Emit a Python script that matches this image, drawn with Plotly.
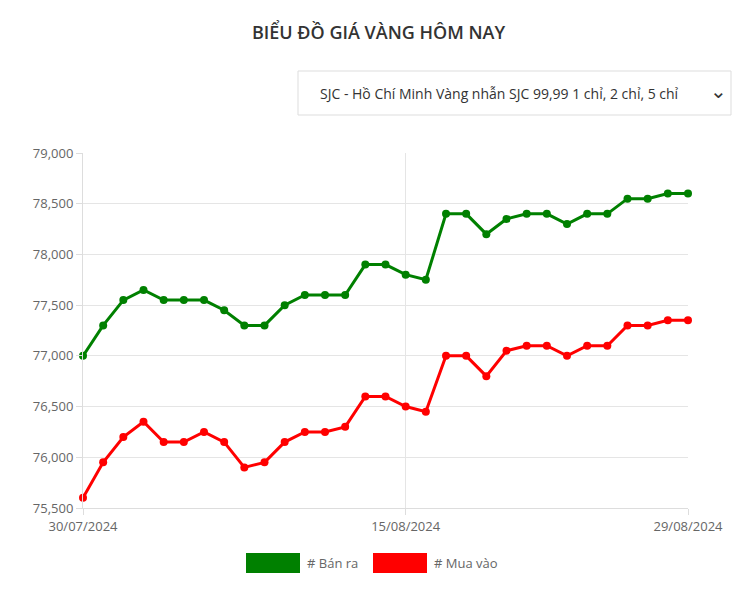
import plotly.graph_objects as go

dates = [f"{d:02d}/07/2024" for d in (30, 31)] + [f"{d:02d}/08/2024" for d in range(1, 30)]
ban_ra = [77000, 77300, 77550, 77650, 77550, 77550, 77550, 77450, 77300, 77300, 77500, 77600, 77600, 77600, 77900, 77900,
          77800, 77750, 78400, 78400, 78200, 78350, 78400, 78400, 78300, 78400, 78400, 78550, 78550, 78600, 78600]
mua_vao = [75600, 75950, 76200, 76350, 76150, 76150, 76250, 76150, 75900, 75950, 76150, 76250, 76250, 76300, 76600, 76600,
           76500, 76450, 77000, 77000, 76800, 77050, 77100, 77100, 77000, 77100, 77100, 77300, 77300, 77350, 77350]
tick_labels = ["30/07/2024", "15/08/2024", "29/08/2024"]
tick_idx = [dates.index(t) for t in tick_labels]
idx = list(range(len(dates)))

fig = go.Figure()
for name, vals, col in [("# Bán ra", ban_ra, "#008000"), ("# Mua vào", mua_vao, "#ff0000")]:
    fig.add_trace(go.Scatter(x=idx, y=vals, name=name, mode="lines+markers",
                             line=dict(color=col, width=3), marker=dict(color=col, size=8),
                             cliponaxis=False, customdata=dates, hovertemplate="%{customdata}: %{y}<extra></extra>"))

fig.update_layout(
    width=741, height=581, margin=dict(l=75, r=61, t=145, b=81),
    plot_bgcolor="white", paper_bgcolor="white", showlegend=False,
    font=dict(family="Open Sans", color="#666", size=13),
    title=dict(text="BIỂU ĐỒ GIÁ VÀNG HÔM NAY", x=0.5, y=0.957, xanchor="center", yanchor="middle",
               font=dict(size=18, color="#333", family="Open Sans", weight=600)),
    xaxis=dict(range=[0, 30], tickvals=tick_idx, ticktext=tick_labels, showgrid=True, gridcolor="#e5e5e5",
               showline=True, linecolor="#ddd", ticks="outside", ticklen=6, tickcolor="#ddd", zeroline=False),
    yaxis=dict(range=[75500, 79000], dtick=500, tickformat=",", showgrid=True, gridcolor="#e5e5e5",
               showline=True, linecolor="#ddd", ticks="outside", ticklen=6, tickcolor="#ddd", zeroline=False),
    shapes=[
        dict(type="rect", xref="paper", yref="paper", x0=(298-83)/605, x1=(731-83)/605,
             y0=(508-115)/355, y1=(508-71)/355, line=dict(color="#ddd", width=1), fillcolor="white"),
        dict(type="rect", xref="paper", yref="paper", x0=(246-83)/605, x1=(300-83)/605,
             y0=(508-573)/355, y1=(508-553)/355, line=dict(width=0), fillcolor="#008000"),
        dict(type="rect", xref="paper", yref="paper", x0=(373-83)/605, x1=(427-83)/605,
             y0=(508-573)/355, y1=(508-553)/355, line=dict(width=0), fillcolor="#ff0000"),
    ],
    annotations=[
        dict(text="SJC - Hồ Chí Minh Vàng nhẫn SJC 99,99 1 chỉ, 2 chỉ, 5 chỉ", xref="paper", yref="paper",
             x=(318-83)/605, y=(508-93)/355, xanchor="left", yanchor="middle", showarrow=False,
             font=dict(size=14, color="#333")),
        dict(text="⌄", xref="paper", yref="paper", x=(718-83)/605, y=(508-90)/355, xanchor="center",
             yanchor="middle", showarrow=False, font=dict(size=20, color="#333")),
        dict(text="# Bán ra", xref="paper", yref="paper", x=(305-83)/605, y=(508-563)/355, xanchor="left",
             yanchor="middle", showarrow=False, font=dict(size=13, color="#666")),
        dict(text="# Mua vào", xref="paper", yref="paper", x=(432-83)/605, y=(508-563)/355, xanchor="left",
             yanchor="middle", showarrow=False, font=dict(size=13, color="#666")),
    ],
)
fig.write_html("out.html")
